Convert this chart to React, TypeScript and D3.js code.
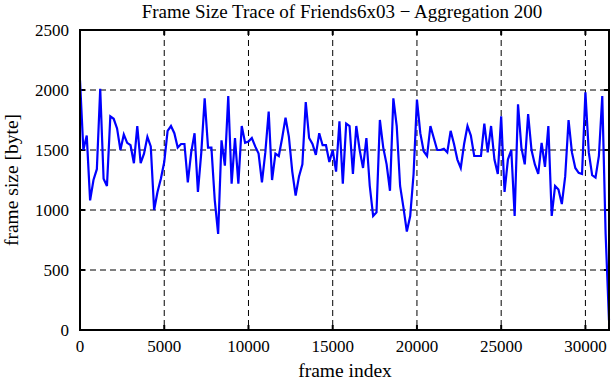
import React, { useRef, useEffect } from 'react';
import * as d3 from 'd3';

// one value per aggregation window of 200 frames
const frameSizes = [
  2080, 1500, 1620, 1080, 1250, 1340, 2010, 1260, 1200, 1780,
  1760, 1680, 1500, 1630, 1560, 1540, 1390, 1700, 1390, 1470,
  1610, 1530, 1000, 1150, 1260, 1400, 1660, 1700, 1640, 1520,
  1550, 1550, 1230, 1480, 1640, 1150, 1480, 1930, 1520, 1520,
  1080, 800, 1580, 1370, 1950, 1220, 1600, 1220, 1700, 1560,
  1570, 1600, 1530, 1470, 1230, 1480, 1820, 1250, 1470, 1450,
  1600, 1770, 1610, 1320, 1120, 1280, 1380, 1900, 1600, 1550,
  1460, 1640, 1540, 1540, 1400, 1500, 1320, 1740, 1220, 1720,
  1700, 1300, 1700, 1500, 1350, 1600, 1200, 950, 980, 1750,
  1520, 1380, 1160, 1930, 1700, 1200, 1020, 820, 950, 1300,
  1920, 1640, 1490, 1450, 1700, 1600, 1500, 1500, 1510, 1480,
  1660, 1550, 1420, 1350, 1550, 1700, 1620, 1450, 1450, 1450,
  1720, 1480, 1700, 1420, 1300, 1780, 1150, 1420, 1500, 950,
  1880, 1520, 1380, 1800, 1500, 1380, 1300, 1560, 1360, 1700,
  950, 1200, 1170, 1050, 1280, 1750, 1480, 1350, 1310, 1300,
  1980, 1480, 1290, 1270, 1450, 1950, 800, 80,
];
const aggregation = 200;
const xTicks = [0, 5000, 10000, 15000, 20000, 25000, 30000];
const yTicks = [0, 500, 1000, 1500, 2000, 2500];

const FrameTrace = () => {
  const ref = useRef<SVGSVGElement>(null);

  useEffect(() => {
    const svg = d3.select(ref.current);
    svg.selectAll('*').remove();

    const left = 80, right = 609, top = 30, bottom = 330;
    const font = '"Liberation Serif", "Times New Roman", serif';

    const x = d3.scaleLinear()
      .domain([0, (frameSizes.length - 1) * aggregation])
      .range([left, right]);
    const y = d3.scaleLinear().domain([0, 2500]).range([bottom, top]);

    // dashed grid
    svg.append('g')
      .selectAll('line')
      .data(xTicks.filter(d => d > 0))
      .enter().append('line')
      .attr('x1', d => x(d)).attr('x2', d => x(d))
      .attr('y1', top).attr('y2', bottom)
      .attr('stroke', '#000').attr('stroke-width', 1)
      .attr('stroke-dasharray', '6,4');
    svg.append('g')
      .selectAll('line')
      .data(yTicks.filter(d => d > 0 && d < 2500))
      .enter().append('line')
      .attr('x1', left).attr('x2', right)
      .attr('y1', d => y(d)).attr('y2', d => y(d))
      .attr('stroke', '#000').attr('stroke-width', 1)
      .attr('stroke-dasharray', '6,4');

    // inward ticks on all sides
    const ticks = svg.append('g').attr('stroke', '#000').attr('stroke-width', 2);
    xTicks.forEach(t => {
      ticks.append('line').attr('x1', x(t)).attr('x2', x(t)).attr('y1', bottom).attr('y2', bottom - 5);
      ticks.append('line').attr('x1', x(t)).attr('x2', x(t)).attr('y1', top).attr('y2', top + 5);
    });
    yTicks.forEach(t => {
      ticks.append('line').attr('x1', left).attr('x2', left + 5).attr('y1', y(t)).attr('y2', y(t));
      ticks.append('line').attr('x1', right).attr('x2', right - 5).attr('y1', y(t)).attr('y2', y(t));
    });

    // trace
    const line = d3.line<number>()
      .x((d, i) => x(i * aggregation))
      .y(d => y(d));
    svg.append('path')
      .datum(frameSizes)
      .attr('d', line)
      .attr('fill', 'none')
      .attr('stroke', '#0000ff')
      .attr('stroke-width', 2.2);

    // border
    svg.append('rect')
      .attr('x', left).attr('y', top)
      .attr('width', right - left).attr('height', bottom - top)
      .attr('fill', 'none').attr('stroke', '#000').attr('stroke-width', 2);

    // tick labels
    svg.append('g')
      .selectAll('text')
      .data(xTicks)
      .enter().append('text')
      .attr('x', d => x(d)).attr('y', 352)
      .attr('text-anchor', 'middle')
      .style('font-family', font).style('font-size', '17px')
      .text(d => d);
    svg.append('g')
      .selectAll('text')
      .data(yTicks)
      .enter().append('text')
      .attr('x', 69).attr('y', d => y(d) + 6)
      .attr('text-anchor', 'end')
      .style('font-family', font).style('font-size', '17px')
      .text(d => d);

    // titles
    svg.append('text')
      .attr('x', 342).attr('y', 18)
      .attr('text-anchor', 'middle')
      .style('font-family', font).style('font-size', '19px')
      .text('Frame Size Trace of Friends6x03 \u2212 Aggregation 200');
    svg.append('text')
      .attr('x', 345).attr('y', 377)
      .attr('text-anchor', 'middle')
      .style('font-family', font).style('font-size', '19.5px')
      .text('frame index');
    svg.append('text')
      .attr('transform', `translate(18,${(top + bottom) / 2}) rotate(-90)`)
      .attr('text-anchor', 'middle')
      .style('font-family', font).style('font-size', '19.5px')
      .text('frame size [byte]');
  }, []);

  return (
    <div style={{ position: 'absolute', left: 0, top: 0 }}>
      <svg ref={ref} width={611} height={380} style={{ display: 'block', background: '#fff' }} />
    </div>
  );
};

export default function App() {
  return <FrameTrace />;
}
